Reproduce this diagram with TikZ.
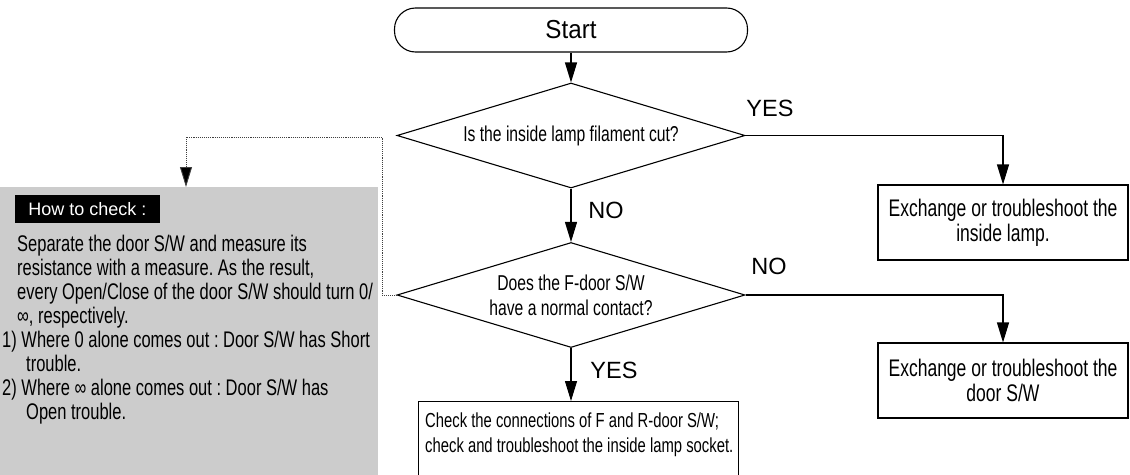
\documentclass[tikz,border=0pt]{standalone}
\usepackage{fontspec}
\setmainfont{Liberation Sans}
\newfontfamily\cond[FakeStretch=0.73]{Liberation Sans}
\usetikzlibrary{shapes.geometric,arrows.meta,calc}
\definecolor{panelgray}{HTML}{CCCCCC}
\frenchspacing
\tikzset{
  ln/.style={line width=1.1pt},
  arr/.style={ln, -{Triangle[length=20pt,width=12pt]}},
  dotline/.style={line width=0.9pt, densely dotted, draw=black!75, -{Triangle[length=20pt,width=12pt,fill=black]}},
  startbox/.style={draw, ln, rounded corners=21pt, minimum width=353pt, minimum height=44pt, inner sep=0pt},
  decision/.style={draw, ln, diamond, aspect=3.3, minimum width=348pt, minimum height=105pt, inner sep=0pt, align=center,
    font=\cond\fontsize{21.5}{25}\selectfont},
  actbox/.style={draw, ln, rectangle, minimum width=250pt, minimum height=75pt, inner sep=0pt, align=center,
    font=\cond\fontsize{24}{25}\selectfont},
  lbl/.style={inner sep=0pt, font=\fontsize{23.5}{24}\selectfont},
}
\begin{document}
\begin{tikzpicture}[x=1pt,y=-1pt]
\useasboundingbox (0,0) rectangle (1130,474);
\clip (0,0) rectangle (1130,474);

% gray panel
\node[fill=panelgray, anchor=north west, minimum width=378pt, minimum height=300pt, inner sep=0pt] (panel) at (0,187) {};
\node[fill=black, text=white, minimum width=145pt, minimum height=28pt, inner sep=0pt,
  font=\fontsize{18}{18}\selectfont] (howlabel) at (87.5,209) {How to check :};
% multi-line node: base anchor = baseline of the last line
\node[anchor=base west, align=left, inner sep=0pt, font=\cond\fontsize{22.6}{24}\selectfont] (howtext) at (2,419)
  {\hspace*{15pt}Separate the door S/W and measure its\\
   \hspace*{15pt}resistance with a measure. As the result,\\
   \hspace*{15pt}every Open/Close of the door S/W should turn 0/\\
   \hspace*{15pt}∞, respectively.\\
   1) Where 0 alone comes out : Door S/W has Short\\
   \hspace*{24pt}trouble.\\
   2) Where ∞ alone comes out : Door S/W has\\
   \hspace*{24pt}Open trouble.};

% flow nodes
\node[startbox] (start) at (571,30) {\fontsize{26}{26}\selectfont\scalebox{0.93}[1]{Start}};
\node[decision] (d1) at (571,135.5) {Is the inside lamp filament cut?};
\node[decision] (d2) at (571,295) {Does the F-door S/W\\have a normal contact?};
\node[actbox] (box1) at (1003,222.5) {Exchange or troubleshoot the\\inside lamp.};
\node[actbox] (box2) at (1003,380.5) {Exchange or troubleshoot the\\door S/W};
\node[draw, ln, rectangle, anchor=north west, minimum width=320pt, minimum height=100pt, inner sep=0pt] (box3) at (418,401) {};
\node[anchor=base west, align=left, inner sep=0pt, font=\cond\fontsize{20.3}{25}\selectfont] (box3text) at (425,452)
  {Check the connections of F and R-door S/W;\\check and troubleshoot the inside lamp socket.};

% labels
\node[lbl] (yes1) at (770,108) {YES};
\node[lbl] (no1) at (606,210) {NO};
\node[lbl] (no2) at (769,266) {NO};
\node[lbl] (yes2) at (614,370) {YES};

% connectors
\draw[arr] (start.south) -- (d1.north);
\draw[arr] (d1.south) -- (d2.north);
\draw[arr] (d1.east) -| (box1.north);
\draw[arr] (d2.east) -| (box2.north);
\draw[arr] (d2.south) -- (d2.south |- box3.north);

\coordinate (dc1) at (382,137);
\coordinate (dc2) at (186,137);
\draw[dotline] (d2.west) -| (dc1) -- (dc2) -- (dc2 |- panel.north);
\end{tikzpicture}
\end{document}
